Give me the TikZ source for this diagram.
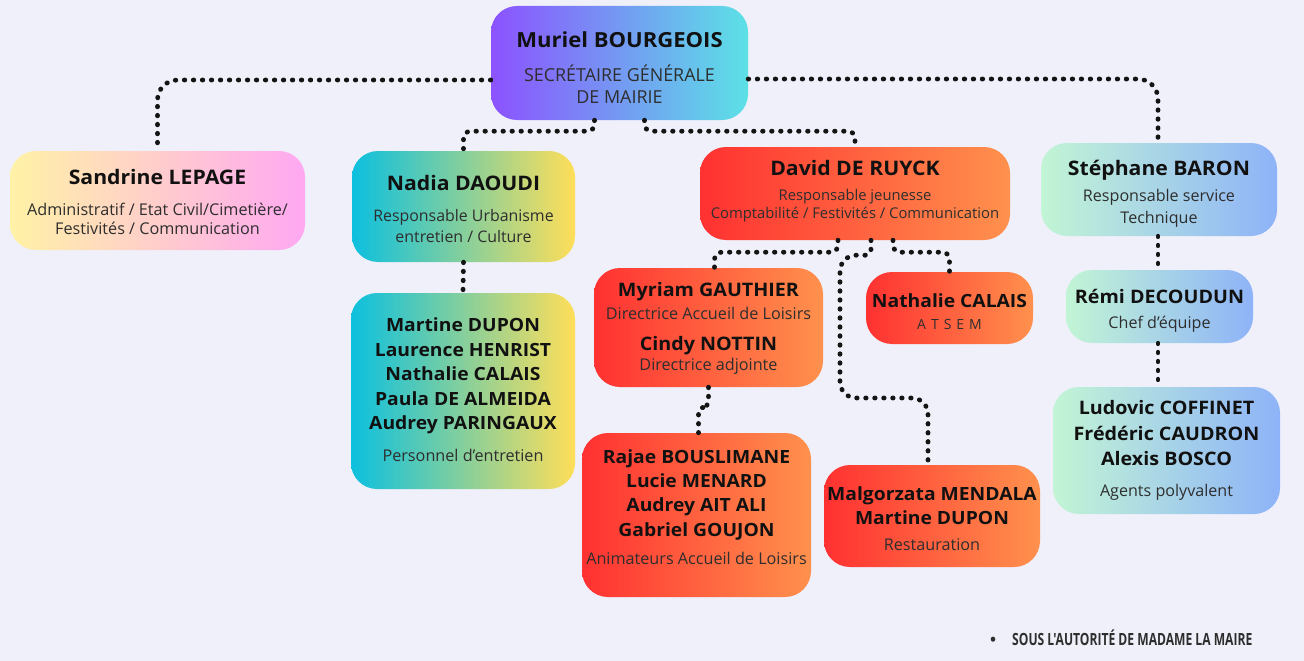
\documentclass[tikz,border=0pt]{standalone}
\usepackage{fontspec}
\setmainfont{Open Sans}
\newfontfamily\namefont[FakeStretch=1.06]{Open Sans}
\newfontfamily\condfont[FakeStretch=0.72]{Open Sans}
\newfontfamily\bulfont{Open Sans}
\usetikzlibrary{calc}
\definecolor{bg}{HTML}{F0F0FB}
\definecolor{txt}{HTML}{111111}
\definecolor{subt}{HTML}{2E2E2E}
\definecolor{purA}{HTML}{8C52FF}
\definecolor{cyaA}{HTML}{5CE1E6}
\definecolor{yelA}{HTML}{FFF2A6}
\definecolor{pinA}{HTML}{FFA8F2}
\definecolor{cyaB}{HTML}{0CC0DF}
\definecolor{yelB}{HTML}{FFDE59}
\definecolor{redA}{HTML}{FF3131}
\definecolor{oraA}{HTML}{FF914D}
\definecolor{grnA}{HTML}{C2F5D5}
\definecolor{bluA}{HTML}{8EB3F8}
\newcommand\nm[2][18.2]{{\namefont\bfseries\fontsize{#1}{#1}\selectfont\color{txt}#2}}
\tikzset{
  box/.style={rounded corners=26pt, inner sep=0pt},
  label text/.style={inner sep=0pt, align=center, text=subt},
  violet/.style={box, left color=purA, right color=cyaA},
  pastel/.style={box, left color=yelA, right color=pinA},
  teal/.style={box, left color=cyaB, right color=yelB},
  redbox/.style={box, left color=redA, right color=oraA},
  mint/.style={box, left color=grnA, right color=bluA},
  conn/.style={draw=black!92, line width=4.8pt, line cap=round, dash pattern=on 0.5pt off 8.5pt},
}
\begin{document}
\begin{tikzpicture}[x=1pt,y=-1pt]
\useasboundingbox (0,0) rectangle (1304,661);
\fill[bg] (0,0) rectangle (1304,661);

% boxes
\node[violet, minimum width=257pt, minimum height=114pt] (m) at (619.5,63) {};
\node[pastel, minimum width=295pt, minimum height=99pt] (s) at (157.5,200.5) {};
\node[teal, minimum width=223pt, minimum height=111pt] (n) at (463.5,206.5) {};
\node[teal, minimum width=224pt, minimum height=196pt] (mt) at (463,391) {};
\node[redbox, minimum width=310pt, minimum height=93pt] (d) at (855,193.5) {};
\node[redbox, minimum width=229pt, minimum height=119pt] (my) at (708.5,327.5) {};
\node[redbox, minimum width=167pt, minimum height=72pt] (na) at (949.5,308) {};
\node[redbox, minimum width=229pt, minimum height=164pt] (ra) at (696.5,515) {};
\node[redbox, minimum width=216pt, minimum height=102pt] (ma) at (932,516) {};
\node[mint, minimum width=236pt, minimum height=93pt] (st) at (1159,189.5) {};
\node[mint, minimum width=187pt, minimum height=73pt] (re) at (1159.5,306.5) {};
\node[mint, minimum width=227pt, minimum height=127pt] (lu) at (1166.5,450.5) {};

% texts
\node[label text, font=\fontsize{17.9}{22}\selectfont] (m-t) at ([yshift=-5pt]m.center)
  {\nm[20.8]{Muriel BOURGEOIS}\\[12pt] SECRÉTAIRE GÉNÉRALE\\ DE MAIRIE};
\node[label text, font=\fontsize{16.2}{19}\selectfont] (s-t) at ([yshift=-1.5pt]s.center)
  {\nm[20]{Sandrine LEPAGE}\\[12.5pt] Administratif / Etat Civil/Cimetière/\\ Festivités / Communication};
\node[label text, font=\fontsize{15.9}{21}\selectfont] (n-t) at ([yshift=-2.5pt]n.center)
  {\nm[20]{Nadia DAOUDI}\\[10.5pt] Responsable Urbanisme\\ entretien / Culture};
\node[label text, font=\fontsize{16.2}{24.5}\selectfont] (mt-t) at ([yshift=1pt]mt.center)
  {\nm{Martine DUPON}\\ \nm{Laurence HENRIST}\\ \nm{Nathalie CALAIS}\\ \nm{Paula DE ALMEIDA}\\ \nm{Audrey PARINGAUX}\\[7.5pt] Personnel d’entretien};
\node[label text, font=\fontsize{14.8}{18}\selectfont] (d-t) at ([yshift=2pt]d.center)
  {\nm[20]{David DE RUYCK}\\[7pt] Responsable jeunesse\\ Comptabilité / Festivités / Communication};
\node[label text, font=\fontsize{16.2}{21}\selectfont] (my-t) at ([yshift=-0.5pt]my.center)
  {\nm[18.6]{Myriam GAUTHIER}\\[2pt] Directrice Accueil de Loisirs\\[10pt] \nm[18.6]{Cindy NOTTIN}\\[-1pt] Directrice adjointe};
\node[label text, font=\fontsize{14}{22}\selectfont] (na-t) at ([yshift=-4pt]na.center)
  {\nm{Nathalie CALAIS}\\ A\hspace{5pt}T\hspace{5pt}S\hspace{5pt}E\hspace{5pt}M};
\node[label text, font=\fontsize{16.2}{24.3}\selectfont] (ra-t) at ([yshift=8pt]ra.center)
  {\nm{Rajae BOUSLIMANE}\\ \nm{Lucie MENARD}\\ \nm{Audrey AIT ALI}\\ \nm{Gabriel GOUJON}\\[3.7pt] Animateurs Accueil de Loisirs};
\node[label text, font=\fontsize{16.2}{23.5}\selectfont] (ma-t) at ([yshift=-2.5pt]ma.center)
  {\nm{Malgorzata MENDALA}\\ \nm{Martine DUPON}\\[2.5pt] Restauration};
\node[label text, font=\fontsize{16.1}{22}\selectfont] (st-t) at ([yshift=-4pt]st.center)
  {\nm[20]{Stéphane BARON}\\[4pt] Responsable service\\ Technique};
\node[label text, font=\fontsize{16.1}{25}\selectfont] (re-t) at ([yshift=-4.5pt]re.center)
  {\nm[18.6]{Rémi DECOUDUN}\\ Chef d’équipe};
\node[label text, font=\fontsize{16.1}{25.5}\selectfont] (lu-t) at (lu.center)
  {\nm[18.6]{Ludovic COFFINET}\\ \nm[18.6]{Frédéric CAUDRON}\\ \nm[18.6]{Alexis BOSCO}\\[5.5pt] Agents polyvalent};

% note
\node[anchor=west, inner sep=0pt, text=subt, font=\condfont\bfseries\fontsize{16.8}{18}\selectfont] (note) at (990,638)
  {{\bulfont\fontsize{16}{16}\selectfont •}\hspace{16pt}SOUS L'AUTORITÉ DE MADAME LA MAIRE};

% connectors
\coordinate (k1) at (840,398);
\draw[conn, rounded corners=20pt] ([yshift=-17pt]m.west) -| (s.north);
\draw[conn, rounded corners=20pt] ([yshift=-16pt]m.east) -| ([xshift=-1pt]st.north);
\draw[conn, rounded corners=7pt] ([xshift=-25pt]m.south) -- ++(0,11) -| (n.north);
\draw[conn, rounded corners=7pt] ([xshift=25pt]m.south) -- ++(0,11) -| (d.north);
\draw[conn] (n.south) -- (mt.north);
\draw[conn, rounded corners=7pt] ([xshift=-17pt]d.south) -- ++(0,12) -| ([xshift=6pt]my.north);
\draw[conn, rounded corners=7pt] ([xshift=38pt]d.south) -- ++(0,12) -| (na.north);
\draw[conn] ([xshift=16pt]d.south) [rounded corners=6pt] -- ++(0,15) [rounded corners=16pt] -| (k1) -| ([xshift=-4pt]ma.north);
\draw[conn, rounded corners=6pt] (my.south) -- ++(0,20) -| ([xshift=2pt]ra.north);
\draw[conn] ([xshift=-1pt]st.south) -- ([xshift=-1pt]st.south |- re.north);
\draw[conn] ([xshift=-1.5pt]re.south) -- ([xshift=-1.5pt]re.south |- lu.north);
\end{tikzpicture}
\end{document}
